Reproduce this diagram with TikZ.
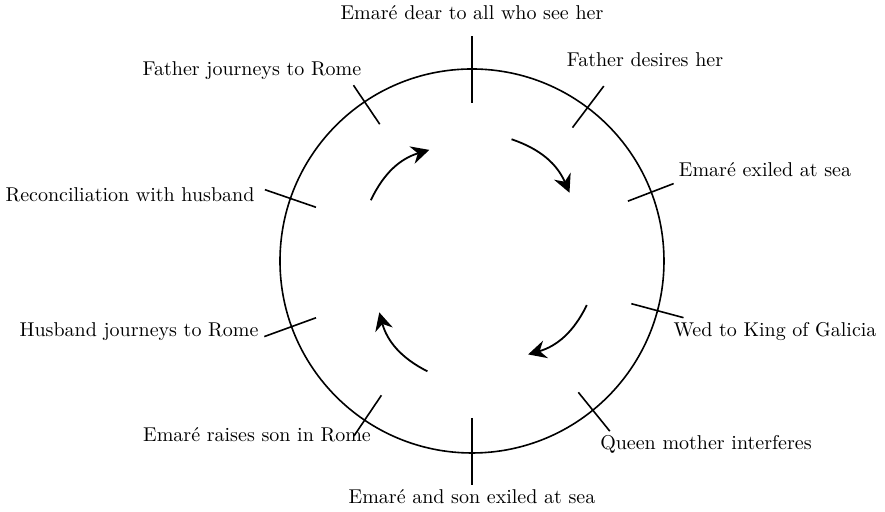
\documentclass[tikz,border=0pt]{standalone}
\usepackage{amsmath}
\usepackage{amssymb}
\usepackage{tikz}
\usetikzlibrary{arrows.meta}

\begin{document}
\begin{tikzpicture}[x=0.5pt, y=0.5pt, line width=0.8pt,
    every node/.style={anchor=base, inner sep=0pt},
    flow/.style={line width=0.9pt, -{Stealth[length=9pt, width=9pt, inset=3pt]}, bend left=24}]
  \useasboundingbox (-472,-251) rectangle (413,261);
  % the cycle
  \draw (0,0) circle (192);
  % ticks
  \draw (90:158) -- (90:225);
  \draw (53:167) -- (53:219);
  \draw (21:167) -- (21:216);
  \draw (-15:165) -- (-15:219);
  \draw (-51:169) -- (-51:219);
  \draw (-90:157) -- (-90:224);
  \draw (-124:162) -- (-124:211);
  \draw (-160:166) -- (-160:221);
  \draw (161:165) -- (161:219);
  \draw (124:165) -- (124:212);
  % labels
  \node (dear) at (0, 241) {Emar\'e dear to all who see her};
  \node (desire) at (173, 194) {Father desires her};
  \node (exile) at (293, 84) {Emar\'e exiled at sea};
  \node (wed) at (303, -76) {Wed to King of Galicia};
  \node (queen) at (234, -189) {Queen mother interferes};
  \node (sonexile) at (0, -243) {Emar\'e and son exiled at sea};
  \node (raise) at (-215, -181) {Emar\'e raises son in Rome};
  \node (husband) at (-333, -76) {Husband journeys to Rome};
  \node (reconcile) at (-342, 59) {Reconciliation with husband};
  \node (journey) at (-220, 185) {Father journeys to Rome};
  % arrows
  \coordinate (a1) at (149:118);
  \coordinate (b1) at (111:119);
  \coordinate (a2) at (72:128);
  \coordinate (b2) at (35:119);
  \coordinate (a3) at (-21:123);
  \coordinate (b3) at (-59:109);
  \coordinate (a4) at (-112:119);
  \coordinate (b4) at (-151:106);
  \draw[flow] (a1) to (b1);
  \draw[flow] (a2) to (b2);
  \draw[flow] (a3) to (b3);
  \draw[flow] (a4) to (b4);
\end{tikzpicture}
\end{document}
